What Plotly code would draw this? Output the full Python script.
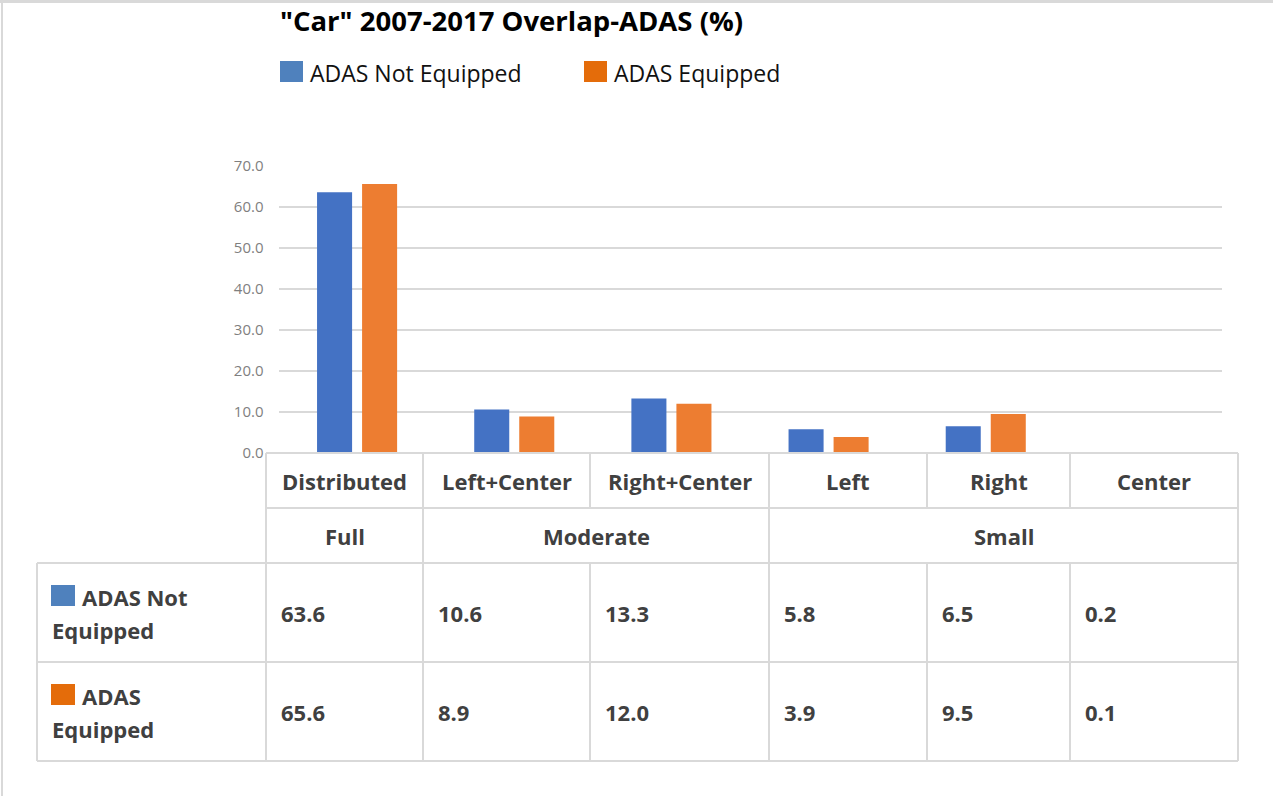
import plotly.graph_objects as go

# 数据
categories = ["Distributed", "Left+Center", "Right+Center", "Left", "Right", "Center"]
groups = ["Full", "Moderate", "Small"]
group_spans = [1, 2, 3]
not_equipped = [63.6, 10.6, 13.3, 5.8, 6.5, 0.2]
equipped = [65.6, 8.9, 12.0, 3.9, 9.5, 0.1]
series_names = ["ADAS Not Equipped", "ADAS Equipped"]
y_ticks = [0, 10, 20, 30, 40, 50, 60, 70]
title_text = '"Car" 2007-2017 Overlap-ADAS (%)'

W, H = 1273, 796
FONT = "Open Sans"
BAR_COLORS = ["#4472C4", "#ED7D31"]
KEY_COLORS = ["#4F81BD", "#E46C0A"]
GRID = "#d9d9d9"
TXT = "#404040"


def px(x):
    return x / W


def py(y):
    return 1 - y / H


fig = go.Figure()
for name, vals, col in zip(series_names, [not_equipped, equipped], BAR_COLORS):
    fig.add_trace(go.Bar(x=categories, y=vals, name=name, marker_color=col,
                         marker_line_width=0, showlegend=False, hoverinfo="x+y+name"))

shapes = []
annotations = []

# 标题和图例
annotations.append(dict(text="<b>%s</b>" % title_text, x=px(278), y=py(20), xref="paper", yref="paper",
                        xanchor="left", yanchor="middle", showarrow=False,
                        font=dict(family=FONT, size=27.5, color="#000000")))
for i, (name, col) in enumerate(zip(series_names, KEY_COLORS)):
    x0 = [280, 584][i]
    shapes.append(dict(type="rect", xref="paper", yref="paper", x0=px(x0), x1=px(x0 + 23),
                       y0=py(61), y1=py(82), fillcolor=col, line_width=0))
    annotations.append(dict(text=name, x=px(x0 + 28), y=py(73), xref="paper", yref="paper",
                            xanchor="left", yanchor="middle", showarrow=False,
                            font=dict(family=FONT, size=23, color="#111111")))

# 表格
cols = [266, 423, 590, 769, 927, 1070, 1238]
rows = [453, 508, 563, 662, 761]
lab_x = 37


def hline(y, x0, x1):
    shapes.append(dict(type="line", xref="paper", yref="paper", x0=px(x0), x1=px(x1),
                       y0=py(y), y1=py(y), line=dict(color=GRID, width=2)))


def vline(x, y0, y1):
    shapes.append(dict(type="line", xref="paper", yref="paper", x0=px(x), x1=px(x),
                       y0=py(y0), y1=py(y1), line=dict(color=GRID, width=2)))


hline(rows[0], cols[0], cols[-1])
hline(rows[1], cols[0], cols[-1])
for y in rows[2:]:
    hline(y, lab_x, cols[-1])
vline(lab_x, rows[2], rows[4])
for x in cols:
    vline(x, rows[0], rows[1])
    vline(x, rows[2], rows[4])
# 分组边界
k = 0
vline(cols[0], rows[1], rows[2])
for span in group_spans:
    k += span
    vline(cols[k], rows[1], rows[2])

tfont = dict(family=FONT, size=22, color=TXT)
for i, c in enumerate(categories):
    annotations.append(dict(text="<b>%s</b>" % c, x=px((cols[i] + cols[i + 1]) / 2),
                            y=py((rows[0] + rows[1]) / 2), xref="paper", yref="paper",
                            xanchor="center", yanchor="middle", showarrow=False, font=tfont))
k = 0
for g, span in zip(groups, group_spans):
    annotations.append(dict(text="<b>%s</b>" % g, x=px((cols[k] + cols[k + span]) / 2),
                            y=py((rows[1] + rows[2]) / 2), xref="paper", yref="paper",
                            xanchor="center", yanchor="middle", showarrow=False, font=tfont))
    k += span

for r, (name, vals, col) in enumerate(zip(series_names, [not_equipped, equipped], KEY_COLORS)):
    top = rows[2 + r]
    mid = (rows[2 + r] + rows[3 + r]) / 2
    for i, v in enumerate(vals):
        annotations.append(dict(text="<b>%.1f</b>" % v, x=px(cols[i] + 13), y=py(mid),
                                xref="paper", yref="paper", xanchor="left", yanchor="middle",
                                showarrow=False, font=tfont))
    first, second = name.rsplit(" ", 1)
    shapes.append(dict(type="rect", xref="paper", yref="paper", x0=px(51), x1=px(75),
                       y0=py(top + 22), y1=py(top + 43), fillcolor=col, line_width=0))
    annotations.append(dict(text="<b>%s</b>" % first, x=px(80), y=py(top + 34),
                            xref="paper", yref="paper", xanchor="left", yanchor="middle",
                            showarrow=False, font=tfont))
    annotations.append(dict(text="<b>%s</b>" % second, x=px(50), y=py(top + 67),
                            xref="paper", yref="paper", xanchor="left", yanchor="middle",
                            showarrow=False, font=tfont))

# 外框
shapes.append(dict(type="line", xref="paper", yref="paper", x0=0, x1=1, y0=py(1.5), y1=py(1.5),
                   line=dict(color=GRID, width=3)))
shapes.append(dict(type="line", xref="paper", yref="paper", x0=px(2), x1=px(2), y0=0, y1=1,
                   line=dict(color=GRID, width=2)))

fig.update_layout(
    width=W, height=H, autosize=False,
    margin=dict(l=0, r=0, t=0, b=0, autoexpand=False),
    paper_bgcolor="white", plot_bgcolor="white",
    barmode="group", bargap=0.427, bargroupgap=0.222,
    showlegend=False,
    shapes=shapes, annotations=annotations,
    xaxis=dict(domain=[px(278.5), px(1221.5)], range=[-0.5, 5.5], showticklabels=False,
               showgrid=False, zeroline=False, showline=False, fixedrange=True, automargin=False),
    yaxis=dict(domain=[py(453), py(166)], range=[0, 70], tickvals=y_ticks,
               ticktext=["%.1f" % t for t in y_ticks], showgrid=True, gridcolor=GRID,
               gridwidth=1.5, zeroline=False, showline=False, ticklabelstandoff=14,
               tickfont=dict(family=FONT, size=15, color="#7f7f7f"), fixedrange=True,
               automargin=False),
)

# 去掉页面默认的 body 边距，让图正好铺满窗口
fig.write_html("out.html", config={"displayModeBar": False},
               post_script="document.body.style.margin='0';")
